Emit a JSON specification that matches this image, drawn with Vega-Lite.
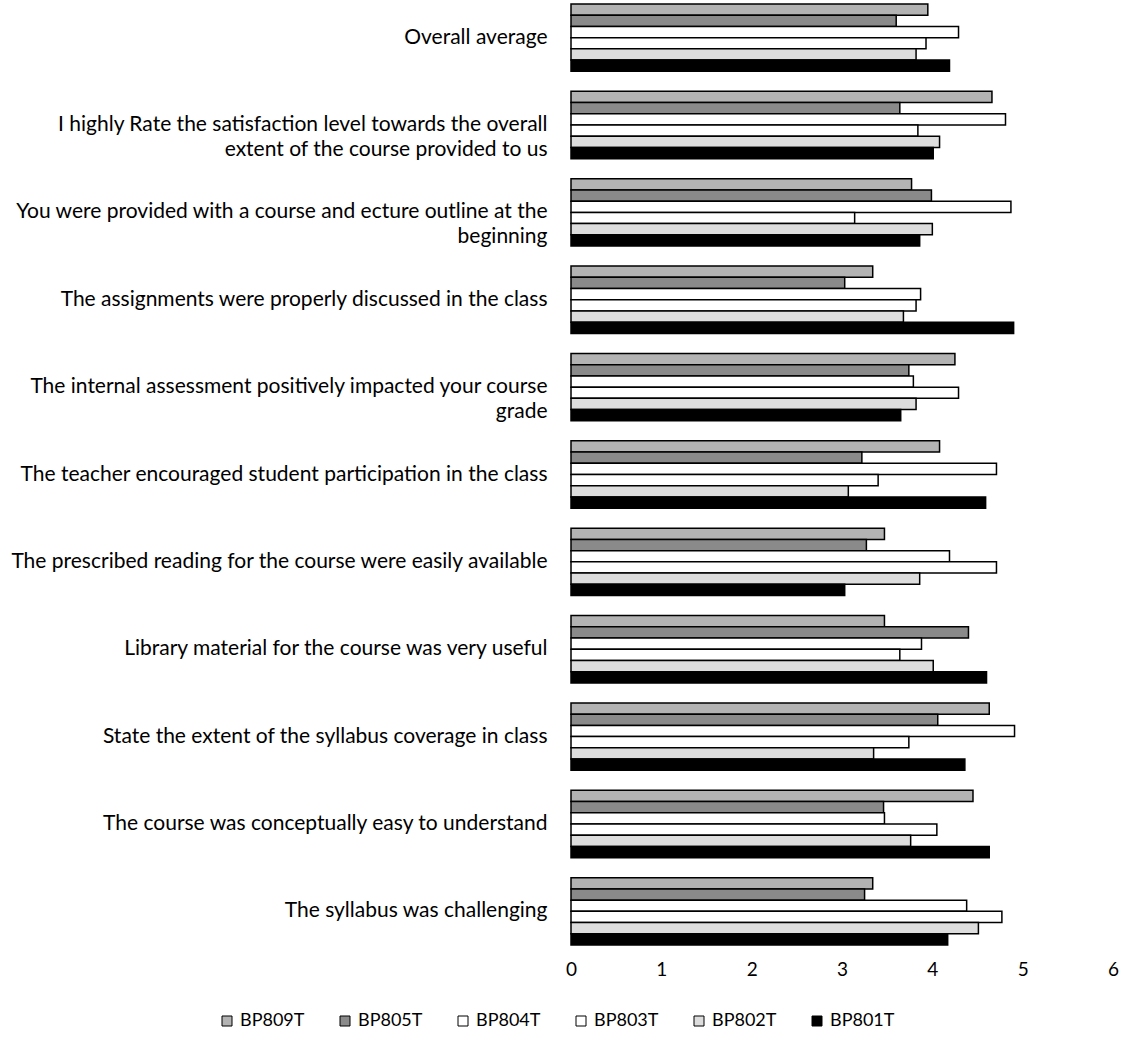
{
  "$schema": "https://vega.github.io/schema/vega-lite/v6.json",
  "autosize": {"type": "none"},
  "padding": {"left": 571, "top": 4, "right": 13, "bottom": 100},
  "width": 542,
  "height": 941,
  "background": "white",
  "config": {"view": {"stroke": null}, "font": "Lato"},
  "data": {"values": [
    {"q": "Overall average", "s": "BP809T", "v": 3.95},
    {"q": "Overall average", "s": "BP805T", "v": 3.60},
    {"q": "Overall average", "s": "BP804T", "v": 4.29},
    {"q": "Overall average", "s": "BP803T", "v": 3.93},
    {"q": "Overall average", "s": "BP802T", "v": 3.82},
    {"q": "Overall average", "s": "BP801T", "v": 4.19},
    {"q": "I highly Rate the satisfaction level towards the overall|extent of the course provided to us", "s": "BP809T", "v": 4.66},
    {"q": "I highly Rate the satisfaction level towards the overall|extent of the course provided to us", "s": "BP805T", "v": 3.64},
    {"q": "I highly Rate the satisfaction level towards the overall|extent of the course provided to us", "s": "BP804T", "v": 4.81},
    {"q": "I highly Rate the satisfaction level towards the overall|extent of the course provided to us", "s": "BP803T", "v": 3.84},
    {"q": "I highly Rate the satisfaction level towards the overall|extent of the course provided to us", "s": "BP802T", "v": 4.08},
    {"q": "I highly Rate the satisfaction level towards the overall|extent of the course provided to us", "s": "BP801T", "v": 4.01},
    {"q": "You were provided with a course and ecture outline at the|beginning", "s": "BP809T", "v": 3.77},
    {"q": "You were provided with a course and ecture outline at the|beginning", "s": "BP805T", "v": 3.99},
    {"q": "You were provided with a course and ecture outline at the|beginning", "s": "BP804T", "v": 4.87},
    {"q": "You were provided with a course and ecture outline at the|beginning", "s": "BP803T", "v": 3.14},
    {"q": "You were provided with a course and ecture outline at the|beginning", "s": "BP802T", "v": 4.00},
    {"q": "You were provided with a course and ecture outline at the|beginning", "s": "BP801T", "v": 3.86},
    {"q": "The assignments were properly discussed in the class", "s": "BP809T", "v": 3.34},
    {"q": "The assignments were properly discussed in the class", "s": "BP805T", "v": 3.03},
    {"q": "The assignments were properly discussed in the class", "s": "BP804T", "v": 3.87},
    {"q": "The assignments were properly discussed in the class", "s": "BP803T", "v": 3.82},
    {"q": "The assignments were properly discussed in the class", "s": "BP802T", "v": 3.68},
    {"q": "The assignments were properly discussed in the class", "s": "BP801T", "v": 4.90},
    {"q": "The internal assessment positively impacted your course|grade", "s": "BP809T", "v": 4.25},
    {"q": "The internal assessment positively impacted your course|grade", "s": "BP805T", "v": 3.74},
    {"q": "The internal assessment positively impacted your course|grade", "s": "BP804T", "v": 3.79},
    {"q": "The internal assessment positively impacted your course|grade", "s": "BP803T", "v": 4.29},
    {"q": "The internal assessment positively impacted your course|grade", "s": "BP802T", "v": 3.82},
    {"q": "The internal assessment positively impacted your course|grade", "s": "BP801T", "v": 3.65},
    {"q": "The teacher encouraged student participation in the class", "s": "BP809T", "v": 4.08},
    {"q": "The teacher encouraged student participation in the class", "s": "BP805T", "v": 3.22},
    {"q": "The teacher encouraged student participation in the class", "s": "BP804T", "v": 4.71},
    {"q": "The teacher encouraged student participation in the class", "s": "BP803T", "v": 3.40},
    {"q": "The teacher encouraged student participation in the class", "s": "BP802T", "v": 3.07},
    {"q": "The teacher encouraged student participation in the class", "s": "BP801T", "v": 4.59},
    {"q": "The prescribed reading for the course were easily available", "s": "BP809T", "v": 3.47},
    {"q": "The prescribed reading for the course were easily available", "s": "BP805T", "v": 3.27},
    {"q": "The prescribed reading for the course were easily available", "s": "BP804T", "v": 4.19},
    {"q": "The prescribed reading for the course were easily available", "s": "BP803T", "v": 4.71},
    {"q": "The prescribed reading for the course were easily available", "s": "BP802T", "v": 3.86},
    {"q": "The prescribed reading for the course were easily available", "s": "BP801T", "v": 3.03},
    {"q": "Library material for the course was very useful", "s": "BP809T", "v": 3.47},
    {"q": "Library material for the course was very useful", "s": "BP805T", "v": 4.40},
    {"q": "Library material for the course was very useful", "s": "BP804T", "v": 3.88},
    {"q": "Library material for the course was very useful", "s": "BP803T", "v": 3.64},
    {"q": "Library material for the course was very useful", "s": "BP802T", "v": 4.01},
    {"q": "Library material for the course was very useful", "s": "BP801T", "v": 4.60},
    {"q": "State the extent of the syllabus coverage in class", "s": "BP809T", "v": 4.63},
    {"q": "State the extent of the syllabus coverage in class", "s": "BP805T", "v": 4.06},
    {"q": "State the extent of the syllabus coverage in class", "s": "BP804T", "v": 4.91},
    {"q": "State the extent of the syllabus coverage in class", "s": "BP803T", "v": 3.74},
    {"q": "State the extent of the syllabus coverage in class", "s": "BP802T", "v": 3.35},
    {"q": "State the extent of the syllabus coverage in class", "s": "BP801T", "v": 4.36},
    {"q": "The course was conceptually easy to understand", "s": "BP809T", "v": 4.45},
    {"q": "The course was conceptually easy to understand", "s": "BP805T", "v": 3.46},
    {"q": "The course was conceptually easy to understand", "s": "BP804T", "v": 3.47},
    {"q": "The course was conceptually easy to understand", "s": "BP803T", "v": 4.05},
    {"q": "The course was conceptually easy to understand", "s": "BP802T", "v": 3.76},
    {"q": "The course was conceptually easy to understand", "s": "BP801T", "v": 4.63},
    {"q": "The syllabus was challenging", "s": "BP809T", "v": 3.34},
    {"q": "The syllabus was challenging", "s": "BP805T", "v": 3.25},
    {"q": "The syllabus was challenging", "s": "BP804T", "v": 4.38},
    {"q": "The syllabus was challenging", "s": "BP803T", "v": 4.77},
    {"q": "The syllabus was challenging", "s": "BP802T", "v": 4.51},
    {"q": "The syllabus was challenging", "s": "BP801T", "v": 4.17}
  ]},
  "mark": {"type": "bar", "stroke": "black", "strokeWidth": 1.5},
  "encoding": {
    "y": {
      "field": "q", "type": "nominal", "sort": null,
      "scale": {"paddingInner": 0.23, "paddingOuter": 0},
      "axis": {"title": null, "domain": false, "ticks": false, "labelExpr": "split(datum.label, '|')", "labelFontSize": 21, "labelLineHeight": 25, "labelPadding": 24, "labelLimit": 0, "labelColor": "black"}
    },
    "yOffset": {"field": "s", "type": "nominal", "sort": ["BP809T", "BP805T", "BP804T", "BP803T", "BP802T", "BP801T"]},
    "x": {
      "field": "v", "type": "quantitative",
      "scale": {"domain": [0, 6]},
      "axis": {"title": null, "grid": false, "domain": false, "ticks": false, "labelFlush": false, "values": [0, 1, 2, 3, 4, 5, 6], "labelPadding": 15, "labelFontSize": 19, "labelColor": "black"}
    },
    "fill": {
      "field": "s", "type": "nominal",
      "scale": {"domain": ["BP809T", "BP805T", "BP804T", "BP803T", "BP802T", "BP801T"], "range": ["#b3b3b3", "#8a8a8a", "#ffffff", "#ffffff", "#dddddd", "#000000"]},
      "legend": {"orient": "none", "legendX": -353, "legendY": 1008, "direction": "horizontal", "title": null, "symbolType": "square", "symbolStrokeColor": "black", "symbolStrokeWidth": 1, "symbolSize": 100, "labelFontSize": 18, "labelColor": "black", "columnPadding": 31}
    }
  }
}
